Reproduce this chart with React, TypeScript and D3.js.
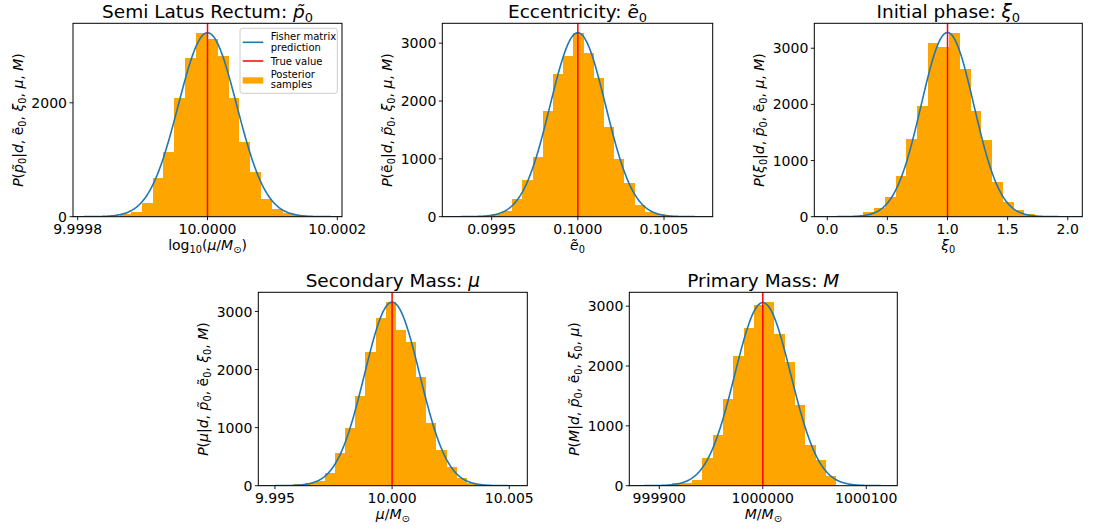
import React from 'react';
import * as d3 from 'd3';

const FONT = '"DejaVu Sans", sans-serif';

// ---------- data ----------
const panelNames = ['p0', 'e0', 'xi0', 'mu', 'M'];

const p0BinStart = 9.9998651;
const p0BinWidth = 1.674e-5;
const p0Counts = [50, 80, 245, 672, 1140, 2076, 2778, 3234, 3117, 2819, 2076, 1304, 778, 310, 135, 70, 35];

const e0BinStart = 0.09950;
const e0BinWidth = 5.92e-5;
const e0Counts = [40, 98, 305, 632, 1034, 1822, 2460, 2770, 3184, 2828, 2391, 1546, 1006, 580, 201, 86, 46];

const xi0BinStart = 0.2995;
const xi0BinWidth = 0.0893;
const xi0Counts = [77, 154, 349, 722, 1385, 1964, 3089, 3030, 3278, 2639, 1876, 1361, 615, 260, 118, 41];

const muBinStart = 9.995832;
const muBinWidth = 4.33e-4;
const muCounts = [23, 40, 85, 223, 567, 990, 1540, 2295, 2885, 3171, 2673, 2467, 1866, 1082, 612, 326, 132, 46];

const MBinStart = 999911.9;
const MBinWidth = 9.94;
const MCounts = [39, 52, 100, 461, 844, 1444, 2172, 2628, 3022, 3078, 2528, 2061, 1344, 678, 428, 161];

const binStarts = [p0BinStart, e0BinStart, xi0BinStart, muBinStart, MBinStart];
const binWidths = [p0BinWidth, e0BinWidth, xi0BinWidth, muBinWidth, MBinWidth];
const binCounts = [p0Counts, e0Counts, xi0Counts, muCounts, MCounts];

// Fisher matrix (Gaussian) prediction parameters
const fisherMean = [10.0, 0.1, 1.0, 10.0, 1000000];
const fisherSigma = [4.5e-5, 1.607e-4, 0.219, 1.178e-3, 27.1];
const fisherPeak = [3230, 3180, 3280, 3160, 3060];

const trueValues = [10.0, 0.1, 1.0, 10.0, 1000000];

const xLimits: [number, number][] = [
  [9.9997928, 10.0002072],
  [0.0992133, 0.1007826],
  [-0.108, 2.121],
  [9.99429, 10.00577],
  [999871, 1000130],
];

const xTicks = [
  [9.9998, 10.0, 10.0002],
  [0.0995, 0.1, 0.1005],
  [0.0, 0.5, 1.0, 1.5, 2.0],
  [9.995, 10.0, 10.005],
  [999900, 1000000, 1000100],
];
const xTickLabels = [
  ['9.9998', '10.0000', '10.0002'],
  ['0.0995', '0.1000', '0.1005'],
  ['0.0', '0.5', '1.0', '1.5', '2.0'],
  ['9.995', '10.000', '10.005'],
  ['999900', '1000000', '1000100'],
];
const yTicks = [
  [0, 2000],
  [0, 1000, 2000, 3000],
  [0, 1000, 2000, 3000],
  [0, 1000, 2000, 3000],
  [0, 1000, 2000, 3000],
];

type Seg = { t: string; i?: boolean; s?: boolean };
const PT = 'p\u0303';
const ET = '\u1EBD';

const titles: Seg[][] = [
  [{ t: 'Semi Latus Rectum: ' }, { t: PT, i: true }, { t: '0', s: true }],
  [{ t: 'Eccentricity: ' }, { t: ET, i: true }, { t: '0', s: true }],
  [{ t: 'Initial phase: ' }, { t: 'ξ', i: true }, { t: '0', s: true }],
  [{ t: 'Secondary Mass: ' }, { t: 'μ', i: true }],
  [{ t: 'Primary Mass: ' }, { t: 'M', i: true }],
];

const yLabels: Seg[][] = [
  [{ t: 'P', i: true }, { t: '(' }, { t: PT, i: true }, { t: '0', s: true }, { t: '|' }, { t: 'd', i: true }, { t: ', ' }, { t: ET }, { t: '0', s: true }, { t: ', ' }, { t: 'ξ', i: true }, { t: '0', s: true }, { t: ', ' }, { t: 'μ', i: true }, { t: ', ' }, { t: 'M', i: true }, { t: ')' }],
  [{ t: 'P', i: true }, { t: '(' }, { t: ET }, { t: '0', s: true }, { t: '|' }, { t: 'd', i: true }, { t: ', ' }, { t: PT, i: true }, { t: '0', s: true }, { t: ', ' }, { t: 'ξ', i: true }, { t: '0', s: true }, { t: ', ' }, { t: 'μ', i: true }, { t: ', ' }, { t: 'M', i: true }, { t: ')' }],
  [{ t: 'P', i: true }, { t: '(' }, { t: 'ξ', i: true }, { t: '0', s: true }, { t: '|' }, { t: 'd', i: true }, { t: ', ' }, { t: PT, i: true }, { t: '0', s: true }, { t: ', ' }, { t: ET }, { t: '0', s: true }, { t: ', ' }, { t: 'μ', i: true }, { t: ', ' }, { t: 'M', i: true }, { t: ')' }],
  [{ t: 'P', i: true }, { t: '(' }, { t: 'μ', i: true }, { t: '|' }, { t: 'd', i: true }, { t: ', ' }, { t: PT, i: true }, { t: '0', s: true }, { t: ', ' }, { t: ET }, { t: '0', s: true }, { t: ', ' }, { t: 'ξ', i: true }, { t: '0', s: true }, { t: ', ' }, { t: 'M', i: true }, { t: ')' }],
  [{ t: 'P', i: true }, { t: '(' }, { t: 'M', i: true }, { t: '|' }, { t: 'd', i: true }, { t: ', ' }, { t: PT, i: true }, { t: '0', s: true }, { t: ', ' }, { t: ET }, { t: '0', s: true }, { t: ', ' }, { t: 'ξ', i: true }, { t: '0', s: true }, { t: ', ' }, { t: 'μ', i: true }, { t: ')' }],
];

const xLabels: Seg[][] = [
  [{ t: 'log' }, { t: '10', s: true }, { t: '(' }, { t: 'μ', i: true }, { t: '/' }, { t: 'M', i: true }, { t: '⊙', s: true }, { t: ')' }],
  [{ t: ET, i: true }, { t: '0', s: true }],
  [{ t: 'ξ', i: true }, { t: '0', s: true }],
  [{ t: 'μ', i: true }, { t: '/' }, { t: 'M', i: true }, { t: '⊙', s: true }],
  [{ t: 'M', i: true }, { t: '/' }, { t: 'M', i: true }, { t: '⊙', s: true }],
];

const legendLabels = [['Fisher matrix', 'prediction'], ['True value'], ['Posterior', 'samples']];

// ---------- layout ----------
const panels = [
  { x: 73, y: 23.3, w: 269, h: 193.4 },
  { x: 442.3, y: 23.3, w: 270.4, h: 193.4 },
  { x: 814.3, y: 23.3, w: 268, h: 193.4 },
  { x: 258.3, y: 292.3, w: 269, h: 193.4 },
  { x: 629.3, y: 292.3, w: 268, h: 193.4 },
];

const ORANGE = '#ffa500';
const BLUE = '#1f77b4';
const RED = '#ff0000';

function MathText(props: { segs: Seg[]; x: number; y: number; fs: number; anchor?: string; rotate?: boolean }) {
  const { segs, x, y, fs, anchor = 'middle', rotate } = props;
  let shifted = false;
  const shift = fs * 0.22;
  const kids = segs.map((seg, k) => {
    let dy = 0;
    if (seg.s && !shifted) dy = shift;
    else if (!seg.s && shifted) dy = -shift;
    shifted = !!seg.s;
    return (
      <tspan key={k} dy={dy !== 0 ? dy : undefined} fontStyle={seg.i ? 'italic' : 'normal'} fontSize={seg.s ? fs * 0.7 : fs}>
        {seg.t}
      </tspan>
    );
  });
  return (
    <text x={x} y={y} textAnchor={anchor} fontSize={fs} fontFamily={FONT} fill="#000" transform={rotate ? `rotate(-90 ${x} ${y})` : undefined}>
      {kids}
    </text>
  );
}

function Panel({ idx }: { idx: number }) {
  const p = panels[idx];
  const counts = binCounts[idx];
  const maxY = Math.max(d3.max(counts) as number, fisherPeak[idx]) * 1.05;
  const xs = d3.scaleLinear().domain(xLimits[idx]).range([p.x, p.x + p.w]);
  const ys = d3.scaleLinear().domain([0, maxY]).range([p.y + p.h, p.y]);
  const bins = counts.map((c, i) => ({ x0: binStarts[idx] + i * binWidths[idx], x1: binStarts[idx] + (i + 1) * binWidths[idx], c }));
  const [d0, d1] = xLimits[idx];
  const curvePts: [number, number][] = d3.range(0, 401).map((k) => {
    const xv = d0 + ((d1 - d0) * k) / 400;
    const z = (xv - fisherMean[idx]) / fisherSigma[idx];
    return [xv, fisherPeak[idx] * Math.exp(-0.5 * z * z)];
  });
  const line = d3.line<[number, number]>().x((d) => xs(d[0])).y((d) => ys(d[1]));
  const clipId = `clip-${panelNames[idx]}`;
  const bottom = p.y + p.h;
  return (
    <g>
      <defs>
        <clipPath id={clipId}>
          <rect x={p.x} y={p.y} width={p.w} height={p.h} />
        </clipPath>
      </defs>
      <g clipPath={`url(#${clipId})`}>
        {bins.map((b, i) => (
          <rect key={i} x={xs(b.x0)} y={ys(b.c)} width={xs(b.x1) - xs(b.x0)} height={ys(0) - ys(b.c)} fill={ORANGE} shapeRendering="crispEdges" />
        ))}
        <path d={line(curvePts) || ''} fill="none" stroke={BLUE} strokeWidth={1.6} />
        <line x1={xs(trueValues[idx])} x2={xs(trueValues[idx])} y1={p.y} y2={bottom} stroke={RED} strokeWidth={1.5} />
      </g>
      <rect x={p.x} y={p.y} width={p.w} height={p.h} fill="none" stroke="#000" strokeWidth={1} />
      {xTicks[idx].map((t, i) => (
        <g key={i}>
          <line x1={xs(t)} x2={xs(t)} y1={bottom} y2={bottom + 3.5} stroke="#000" strokeWidth={0.9} />
          <text x={xs(t)} y={bottom + 17} textAnchor="middle" fontSize={14} fontFamily={FONT}>
            {xTickLabels[idx][i]}
          </text>
        </g>
      ))}
      {yTicks[idx].map((t, i) => (
        <g key={i}>
          <line x1={p.x - 3.5} x2={p.x} y1={ys(t)} y2={ys(t)} stroke="#000" strokeWidth={0.9} />
          <text x={p.x - 6} y={ys(t) + 5.1} textAnchor="end" fontSize={14} fontFamily={FONT}>
            {String(t)}
          </text>
        </g>
      ))}
      <MathText segs={titles[idx]} x={p.x + p.w / 2} y={p.y - 5.3} fs={18.5} />
      <MathText segs={xLabels[idx]} x={p.x + p.w / 2} y={bottom + 33.5} fs={14} />
      <MathText segs={yLabels[idx]} x={p.x - 50} y={p.y + p.h / 2} fs={14} rotate />
    </g>
  );
}

function Legend() {
  const fx = 240, fy = 28.3, fw = 97.3, fh = 65;
  const hx0 = 242.7, hx1 = 263.3, tx = 270.7;
  const fs = 10;
  return (
    <g fontFamily={FONT} fontSize={fs}>
      <rect x={fx} y={fy} width={fw} height={fh} rx={2.5} fill="#fff" fillOpacity={0.8} stroke="#cccccc" strokeWidth={1} />
      <line x1={hx0} x2={hx1} y1={42.3} y2={42.3} stroke={BLUE} strokeWidth={1.6} />
      <text x={tx} y={40}>{legendLabels[0][0]}</text>
      <text x={tx} y={50.8}>{legendLabels[0][1]}</text>
      <line x1={hx0} x2={hx1} y1={61} y2={61} stroke={RED} strokeWidth={1.5} />
      <text x={tx} y={64.5}>{legendLabels[1][0]}</text>
      <rect x={hx0} y={77.3} width={hx1 - hx0} height={6.3} fill={ORANGE} />
      <text x={tx} y={77.5}>{legendLabels[2][0]}</text>
      <text x={tx} y={88.3}>{legendLabels[2][1]}</text>
    </g>
  );
}

export default function App() {
  return (
    <div style={{ position: 'fixed', left: 0, top: 0, width: 1093, height: 530, background: '#fff' }}>
      <svg width={1093} height={530} viewBox="0 0 1093 530" style={{ display: 'block' }}>
        <rect x={0} y={0} width={1093} height={530} fill="#fff" />
        {panels.map((_, i) => (
          <Panel key={i} idx={i} />
        ))}
        <Legend />
      </svg>
    </div>
  );
}
